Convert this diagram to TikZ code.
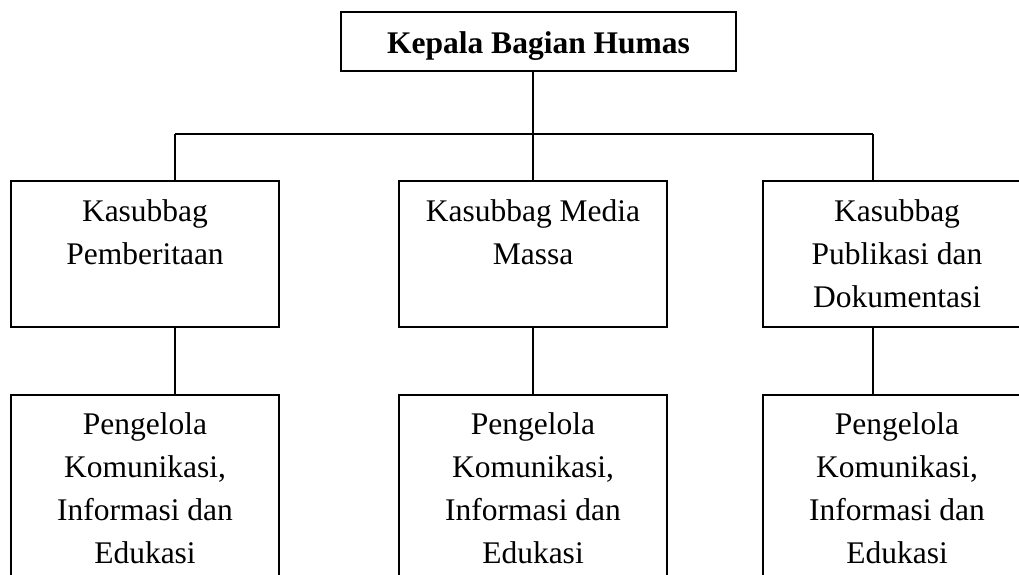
\documentclass[tikz,border=0pt]{standalone}
\usepackage{fontspec}
\setmainfont{Liberation Serif}
\begin{document}
\begin{tikzpicture}[x=1pt,y=-1pt,
  line width=1.8pt,
  orgbox/.style={draw=black, line width=1.8pt, inner sep=0pt, outer sep=0pt},
]
\useasboundingbox (0,0) rectangle (1019,574);
\clip (0,0) rectangle (1019,574);
\fill[white] (0,0) rectangle (1019,574);
\newcommand{\boxtext}[4]{\parbox[c][#1pt][t]{#2pt}{\centering\fontsize{31.5}{43}\selectfont\rule{0pt}{#3pt}#4}}
% top
\node[orgbox] (top) at (538.5,41.5) {\parbox[c][59pt][t]{395pt}{\centering\fontsize{31.5}{36}\selectfont\bfseries\rule{0pt}{41pt}Kepala Bagian Humas}};
% middle row
\node[orgbox] (m1) at (145,254) {\boxtext{146}{268}{40}{Kasubbag\\Pemberitaan}};
\node[orgbox] (m2) at (533,254) {\boxtext{146}{268}{40}{Kasubbag Media\\Massa}};
\node[orgbox] (m3) at (897,254) {\boxtext{146}{268}{40}{Kasubbag\\Publikasi dan\\Dokumentasi}};
% bottom row
\node[orgbox] (b1) at (145,495) {\boxtext{200}{268}{39}{Pengelola\\Komunikasi,\\Informasi dan\\Edukasi}};
\node[orgbox] (b2) at (533,495) {\boxtext{200}{268}{39}{Pengelola\\Komunikasi,\\Informasi dan\\Edukasi}};
\node[orgbox] (b3) at (897,495) {\boxtext{200}{268}{39}{Pengelola\\Komunikasi,\\Informasi dan\\Edukasi}};
% connectors
\coordinate (hl) at (175,134);
\coordinate (hr) at (873,134);
\draw (hl) -- (hr);
\draw (top.south -| m2.north) -- (m2.north);
\draw (hl) -- (hl |- m1.north);
\draw (hr) -- (hr |- m3.north);
\draw (hl |- m1.south) -- (hl |- b1.north);
\draw (m2.south) -- (b2.north);
\draw (hr |- m3.south) -- (hr |- b3.north);
\end{tikzpicture}
\end{document}
